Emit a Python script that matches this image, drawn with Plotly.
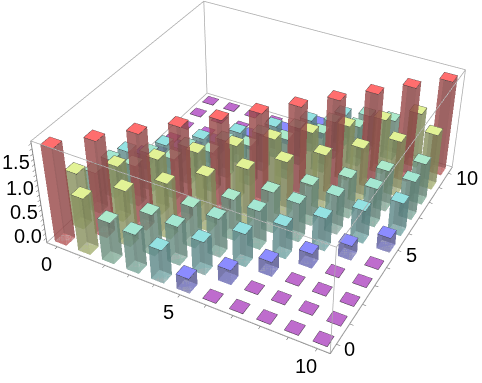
import plotly.graph_objects as go

# Bar heights, row = y index, column = x index
row_00 = [1.85,1.05,0.75,0.70,0.58,0.20,-0.09,-0.09,-0.09,-0.09,-0.09]
row_01 = [1.05,1.85,1.05,0.75,0.70,0.58,0.20,-0.09,-0.09,-0.09,-0.09]
row_02 = [0.75,1.05,1.85,1.05,0.75,0.70,0.58,0.20,-0.09,-0.09,-0.09]
row_03 = [0.70,0.75,1.05,1.85,1.05,0.75,0.70,0.58,0.20,-0.09,-0.09]
row_04 = [0.58,0.70,0.75,1.05,1.85,1.05,0.75,0.70,0.58,0.20,-0.09]
row_05 = [0.20,0.58,0.70,0.75,1.05,1.85,1.05,0.75,0.70,0.58,0.20]
row_06 = [-0.09,0.20,0.58,0.70,0.75,1.05,1.85,1.05,0.75,0.70,0.58]
row_07 = [-0.09,-0.09,0.20,0.58,0.70,0.75,1.05,1.85,1.05,0.75,0.70]
row_08 = [-0.09,-0.09,-0.09,0.20,0.58,0.70,0.75,1.05,1.85,1.05,0.75]
row_09 = [-0.09,-0.09,-0.09,-0.09,0.20,0.58,0.70,0.75,1.05,1.85,1.05]
row_10 = [-0.09,-0.09,-0.09,-0.09,-0.09,0.20,0.58,0.70,0.75,1.05,1.85]
rows = [row_00,row_01,row_02,row_03,row_04,row_05,row_06,row_07,row_08,row_09,row_10]
stops = [(-0.09,(190,108,205)),(0.20,(140,140,255)),(0.58,(148,226,226)),(0.75,(172,234,204)),(1.05,(226,242,150)),(1.85,(255,110,110))]
xy_ticks = list(range(11))
xy_labels = [0,5,10]
z_ticks = [i/10 for i in range(0,20)]
z_labels = [0.0,0.5,1.0,1.5]

W,H = 1090,866
half = 0.25
zmin,zmax = -0.1,1.95
xmin,xmax = -0.45,10.45
OFFX,OFFY = 18,-36

def col(v):
    for (a,ca),(b,cb) in zip(stops,stops[1:]):
        if v<=b:
            t=max(0,(v-a)/(b-a))
            return tuple(int(ca[i]+(cb[i]-ca[i])*t) for i in range(3))
    return stops[-1][1]

cells = sorted(((i,j) for j in range(11) for i in range(11)), key=lambda c:(c[0]-c[1]*1.8))
sx,sy,sz,si,sj,sk,sc=[],[],[],[],[],[],[]
tx,ty,tz,ti,tj,tk,tc=[],[],[],[],[],[],[]
ex,ey,ez=[],[],[]
vx,vy,vz=[],[],[]
for i,j in cells:
    v=rows[j][i]
    c=col(v)
    cs='rgb(%d,%d,%d)'%c
    dull='rgb(%d,%d,%d)'%tuple(int(0.8*k+0.2*110) for k in c)
    a,b,d,e=i-half,i+half,j-half,j+half
    n=len(tx)
    tx+=[a,b,b,a];ty+=[d,d,e,e];tz+=[v]*4
    ti+=[n,n];tj+=[n+1,n+2];tk+=[n+2,n+3];tc+=[cs,cs]
    ex+=[a,b,b,a,a,None];ey+=[d,d,e,e,d,None];ez+=[v,v,v,v,v,None]
    if v>zmin+0.03:
        for p,q in [(a,d),(b,d),(b,e),(a,e)]:
            vx+=[p,p,None];vy+=[q,q,None];vz+=[zmin,v,None]
        n=len(sx)
        sx+=[a,b,b,a,a,b,b,a];sy+=[d,d,e,e,d,d,e,e];sz+=[zmin]*4+[v]*4
        for p,q,r in [(0,1,5),(0,5,4),(1,2,6),(1,6,5),(2,3,7),(2,7,6),(3,0,4),(3,4,7),(0,1,2),(0,2,3)]:
            si.append(n+p);sj.append(n+q);sk.append(n+r);sc.append(dull)
# bounding box (kept a hair inside the axis range so the top ring is not clipped)
eps=0.005
b0,b1,zt=xmin+eps,xmax-eps,zmax-eps
bx,by,bz=[],[],[]
for p,q in [(b0,b0),(b0,b1),(b1,b0),(b1,b1)]:
    bx+=[p,p,None];by+=[q,q,None];bz+=[zmin+eps,zt,None]
for z in (zmin+eps,zt):
    bx+=[b0,b1,b1,b0,b0,None];by+=[b0,b0,b1,b1,b0,None];bz+=[z]*5+[None]
light=dict(ambient=0.6,diffuse=0.35,specular=0,roughness=1,fresnel=0)
fig=go.Figure()
fig.add_trace(go.Scatter3d(x=bx,y=by,z=bz,mode='lines',line=dict(color='#aaaaaa',width=1.5),hoverinfo='skip'))
fig.add_trace(go.Mesh3d(x=tx,y=ty,z=tz,i=ti,j=tj,k=tk,facecolor=tc,flatshading=True,lighting=dict(ambient=1,diffuse=0,specular=0),hoverinfo='skip'))
fig.add_trace(go.Scatter3d(x=ex,y=ey,z=ez,mode='lines',line=dict(color='rgb(40,40,40)',width=1),hoverinfo='skip'))
fig.add_trace(go.Scatter3d(x=vx,y=vy,z=vz,mode='lines',line=dict(color='rgba(60,60,60,0.35)',width=1),opacity=0.35,hoverinfo='skip'))
fig.add_trace(go.Mesh3d(x=sx,y=sy,z=sz,i=si,j=sj,k=sk,facecolor=sc,opacity=0.58,flatshading=True,lighting=light,hoverinfo='skip'))
font=dict(family='Liberation Sans',size=20,color='black')
ann=[]
for v in xy_labels:
    ann.append(dict(x=v,y=xmin,z=zmin,text=str(v),showarrow=False,xshift=-11,yshift=-17,font=font))
    ann.append(dict(x=xmax,y=v,z=zmin,text=str(v),showarrow=False,xanchor='left',xshift=6,yshift=-5,font=font))
for v in z_labels:
    ann.append(dict(x=xmin,y=xmin,z=v,text='%.1f'%v,showarrow=False,xshift=-18,yshift=2,font=font))
ax=dict(showbackground=False,showgrid=False,zeroline=False,showspikes=False,showline=True,linecolor='#777',linewidth=1.5,ticks='outside',ticklen=3,tickcolor='#555',title='',tickmode='array',showticklabels=False)
fig.update_layout(width=W,height=H,margin=dict(l=0,r=0,t=0,b=0),showlegend=False,paper_bgcolor='white',
 scene=dict(annotations=ann,xaxis=dict(ax,range=[xmin,xmax],tickvals=xy_ticks),yaxis=dict(ax,range=[xmin,xmax],tickvals=xy_ticks),
 zaxis=dict(ax,range=[zmin,zmax],tickvals=z_ticks),
 aspectmode='manual',aspectratio=dict(x=1,y=1,z=0.4),
 camera=dict(eye=dict(x=1.3,y=-2.4,z=2),center=dict(x=0,y=0,z=0),up=dict(x=0,y=0,z=1))))
post="""document.documentElement.style.overflow='hidden';document.body.style.overflow='hidden';document.body.style.margin='0';
var g=document.getElementById('{plot_id}');g.style.position='absolute';g.style.left='%dpx';g.style.top='%dpx';"""%(-(W-482)//2+OFFX,-(H-383)//2+OFFY)
fig.write_html("out.html",post_script=post)
